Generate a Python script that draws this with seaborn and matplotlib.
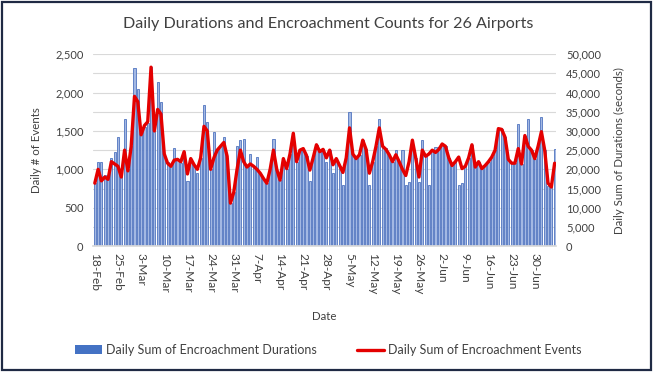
"""
Daily durations and encroachment counts for 26 airports.
Bars = daily sum of encroachment durations (right axis, seconds)
Line = daily sum of encroachment events (left axis, count)
"""
import pandas as pd
import matplotlib
matplotlib.use("Agg")
import matplotlib.pyplot as plt
import seaborn as sns
from matplotlib.patches import Rectangle, Patch
from matplotlib.lines import Line2D
from matplotlib.ticker import FuncFormatter

# --- Datos ---
START_DATE = "2020-02-18"

events = [
    820, 1000, 850, 900, 870, 1100, 1070, 1040, 900, 1250,
    980, 1300, 1950, 1880, 1450, 1570, 1620, 2330, 1500, 1780,
    1720, 1200, 1080, 1040, 1120, 1130, 1100, 1230, 940, 1140,
    1060, 1000, 1150, 1560, 1500, 1000, 1150, 1250, 1300, 1350,
    1170, 560, 700, 1000, 1250, 1100, 1030, 1070, 1040, 1000,
    950, 880, 820, 1000, 1250, 1000, 860, 1140, 1010, 1200,
    1470, 1100, 1250, 1270, 1180, 990, 1150, 1320, 1230, 1260,
    1150, 1250, 1060, 1140, 1050, 960, 1150, 1540, 1200, 1140,
    1190, 1380, 1260, 950, 1100, 1300, 1540, 1300, 1260, 1190,
    1100, 1190, 1100, 1000, 920, 1100, 1380, 1150, 900, 1250,
    1170, 1200, 1250, 1220, 1260, 1330, 1300, 1150, 1050, 1100,
    1160, 1010, 1040, 1150, 1320, 1030, 1100, 1010, 1050, 1100,
    1160, 1250, 1530, 1520, 1420, 1130, 1080, 1080, 1270, 1070,
    1440, 1300, 1250, 1140, 1300, 1490, 1250, 820, 770, 1080,
]

durations = [
    16400, 22000, 22000, 18400, 18000, 23000, 24600, 28400, 19000, 33000,
    20000, 26000, 46400, 40800, 29000, 31000, 32000, 46600, 30000, 42800,
    37600, 24000, 22000, 21000, 25600, 22600, 21600, 24400, 17000, 22800,
    21000, 19000, 23000, 36800, 32200, 20000, 29800, 25000, 26000, 28400,
    23000, 11200, 14000, 26200, 27600, 28000, 21000, 24000, 20800, 23200,
    19000, 17600, 16400, 20000, 28000, 19600, 17200, 22800, 20200, 24000,
    29400, 22000, 25000, 25400, 23600, 17000, 23000, 26400, 24600, 25200,
    22000, 25000, 19000, 22800, 21000, 16000, 23000, 35000, 24000, 22800,
    23800, 27600, 25200, 16000, 22000, 26000, 33200, 26000, 25600, 23800,
    22000, 25000, 22000, 25000, 15800, 16800, 27600, 23000, 16800, 27600,
    23400, 15800, 25000, 25800, 25800, 26600, 26000, 23000, 21000, 22000,
    16000, 16400, 20800, 23000, 26400, 20600, 22000, 20200, 21000, 22000,
    23200, 25000, 30600, 30400, 28400, 22600, 21600, 21600, 31800, 21400,
    28800, 33200, 25000, 22800, 26000, 33600, 25000, 15600, 15400, 25400,
]

dates = pd.date_range(START_DATE, periods=len(events), freq="D")
df = pd.DataFrame({"dia": range(len(events)), "fecha": dates,
                   "eventos": events, "duracion": durations})

# --- Estilo ---
sns.set_theme(style="white")
plt.rcParams["font.family"] = ["Lato", "DejaVu Sans"]
TEXT = "#404040"

fig = plt.figure(figsize=(6.56, 3.84), dpi=100)
ax = fig.add_axes([0.142, 0.359, 0.706, 0.50])
ax2 = ax.twinx()

# Barras (eje derecho)
sns.barplot(data=df, x="dia", y="duracion", native_scale=True, ax=ax2,
            color="#a3b8e3", edgecolor="#5074c0", linewidth=0.6, width=0.65,
            saturation=1)
ax2.set_ylim(0, 50000)
ax2.set_yticks(range(0, 50001, 5000))
ax2.yaxis.set_major_formatter(FuncFormatter(lambda v, p: f"{int(v):,}"))
ax2.grid(True, axis="y", color="#d9d9d9", linewidth=0.8)
ax2.set_axisbelow(True)
ax2.set_ylabel("Daily Sum of Durations (seconds)", fontsize=8.3, color=TEXT,
               labelpad=9)

# Línea (eje izquierdo, por encima de las barras)
sns.lineplot(data=df, x="dia", y="eventos", ax=ax, color="#e40000",
             linewidth=2.4)
ax.set_zorder(ax2.get_zorder() + 1)
ax.patch.set_visible(False)
ax.set_ylim(0, 2500)
ax.set_yticks(range(0, 2501, 500))
ax.yaxis.set_major_formatter(FuncFormatter(lambda v, p: f"{int(v):,}"))
ax.grid(False)
ax.set_ylabel("Daily # of Events", fontsize=8.3, color=TEXT, labelpad=9)

# Eje X con fechas semanales
ax.set_xlim(-0.5, len(events) - 0.5)
tick_pos = list(range(0, len(events), 7))[:20]
ax.set_xticks(tick_pos)
ax.set_xticklabels([f"{d.day}-{d.strftime('%b')}" for d in dates[tick_pos]],
                   rotation=-90, va="top", ha="center")
ax.set_xlabel("Date", fontsize=8.3, color=TEXT, labelpad=12)
ax2.set_xlabel("")

for a in (ax, ax2):
    a.tick_params(axis="both", labelsize=8, colors=TEXT, length=0, pad=7)
    for s in a.spines.values():
        s.set_visible(False)
ax.spines["bottom"].set_visible(True)
ax.spines["bottom"].set_color("#d9d9d9")
ax.tick_params(axis="x", labelsize=8.6, length=3, color="#d9d9d9", pad=2)

fig.suptitle("Daily Durations and Encroachment Counts for 26 Airports",
             y=0.955, fontsize=11.6, color=TEXT)

handles = [Patch(facecolor="#4472c4", edgecolor="none"),
           Line2D([0], [0], color="#e40000", linewidth=2.4)]
fig.legend(handles, ["Daily Sum of Encroachment Durations",
                     "Daily Sum of Encroachment Events"],
           loc="center", bbox_to_anchor=(0.5, 0.088), ncol=2, frameon=False,
           fontsize=9, columnspacing=3.2, handlelength=2.2,
           handletextpad=0.3, labelcolor=TEXT)

# Marco del gráfico
fig.patches.append(Rectangle((0.003, 0.036), 0.99, 0.96,
                             transform=fig.transFigure, fill=False,
                             edgecolor="#1f2a44", linewidth=1.6))

fig.savefig("out.png", dpi=100)
plt.close(fig)
